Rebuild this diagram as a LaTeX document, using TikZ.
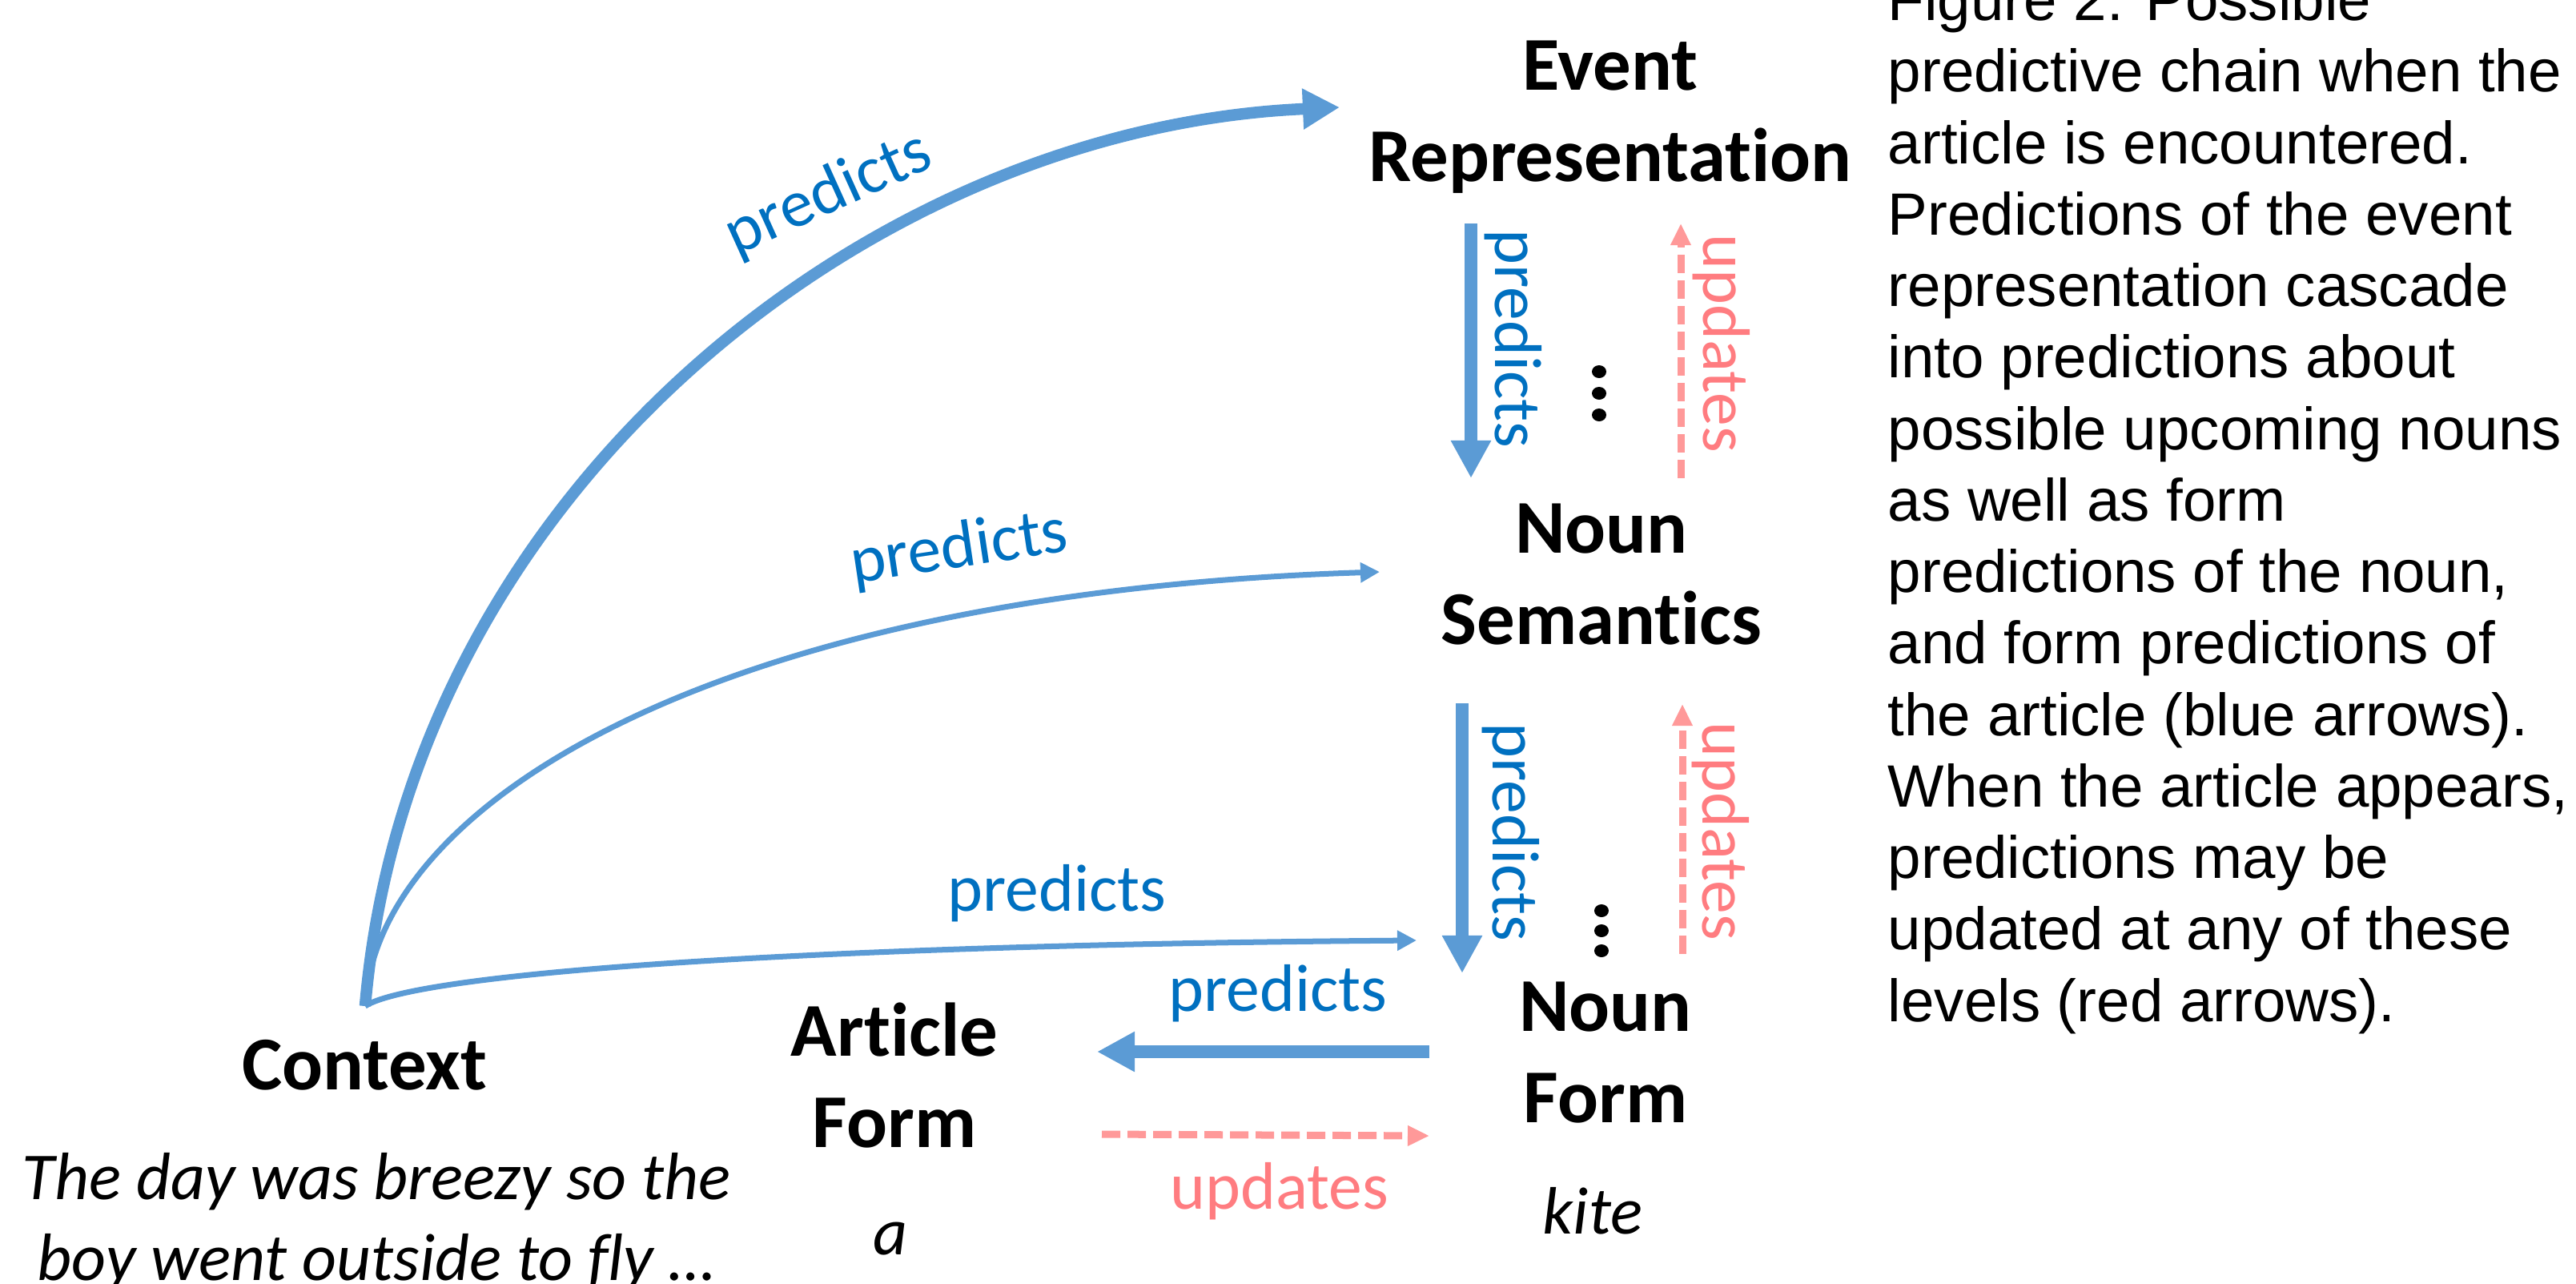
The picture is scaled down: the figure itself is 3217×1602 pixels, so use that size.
\documentclass[tikz,border=0pt]{standalone}
\usepackage{fontspec}
\setmainfont{Carlito}[Ligatures=NoCommon]
\newfontfamily\capfont{Liberation Sans}
\usetikzlibrary{arrows.meta}
\definecolor{predblue}{RGB}{91,155,213}
\definecolor{predtext}{RGB}{0,112,192}
\definecolor{updred}{RGB}{255,153,153}
\definecolor{updtext}{RGB}{255,124,128}

\begin{document}
\begin{tikzpicture}[x=0.01cm,y=-0.01cm,
  level/.style={font=\fontsize{27pt}{32.2pt}\selectfont\bfseries, align=center, inner sep=0pt, anchor=base},
  example/.style={font=\fontsize{23.8pt}{28.45pt}\selectfont\itshape, align=center, inner sep=0pt, anchor=base},
  plabel/.style={font=\fontsize{23.8pt}{28pt}\selectfont, text=predtext, inner sep=0pt},
  ulabel/.style={font=\fontsize{23.8pt}{28pt}\selectfont, text=updtext, inner sep=0pt},
  bigpred/.style={draw=predblue, line width=0.16cm, -{Triangle[length=0.47cm,width=0.47cm]}},
  curvepred/.style={draw=predblue, line width=0.145cm, -{Triangle[length=0.46cm,width=0.48cm]}},
  thinpred/.style={draw=predblue, line width=0.07cm, -{Triangle[length=0.24cm,width=0.24cm]}},
  upd/.style={draw=updred, line width=0.09cm, dash pattern=on 0.23cm off 0.09cm, -{Triangle[length=0.27cm,width=0.24cm]}},
  dot/.style={fill=black},
]
\useasboundingbox (0,0) rectangle (3217,1602);
\clip (0,0) rectangle (3217,1602);

% levels of representation (placed by the baseline of their last line)
\node[level] (evt)   at (2011,226)  {Event\\Representation};
\node[level] (nsem)  at (2000,804)  {Noun\\Semantics};
\node[level] (nform) at (2005,1401) {Noun\\Form};
\node[level] (art)   at (1117,1432) {Article\\Form};
\node[level] (ctx)   at (455,1360)  {Context};

% example words
\node[example] (ctxex)  at (470,1598)  {The day was breezy so the\\boy went outside to fly …};
\node[example] (artex)  at (1112,1566) {a};
\node[example] (nounex) at (1989,1540) {kite};

% arrow end points
\coordinate (src)      at (456,1256);
\coordinate (evtin)    at (1673,134);
\coordinate (nsemin)   at (1723,714);
\coordinate (nformin)  at (1769,1174);
\coordinate (evtout)   at (1837,279);
\coordinate (nsemtop)  at (1837,597);
\coordinate (evtupd)   at (2099,279);
\coordinate (nsemupd)  at (2099,597);
\coordinate (nsemout)  at (1826,878);
\coordinate (nformtop) at (1826,1215);
\coordinate (nsemupdb) at (2101,879);
\coordinate (nformupd) at (2101,1191);
\coordinate (nformout) at (1785,1313);
\coordinate (artin)    at (1370,1313);
\coordinate (artupd)   at (1376,1416);
\coordinate (nformin2) at (1785,1418);

% predictions from the context
\draw[curvepred] (src) .. controls (510,620) and (1080,160) .. (evtin);
\draw[thinpred]  (src) .. controls (470,1000) and (900,740) .. (nsemin);
\draw[thinpred]  (src) .. controls (520,1215) and (1000,1180) .. (nformin);
\node[plabel, rotate=24.3] (l1) at (1035,243) {predicts};
\node[plabel, rotate=8.5]  (l2) at (1198,686) {predicts};
\node[plabel, anchor=base] (l3) at (1320,1137) {predicts};

% cascade between levels
\draw[bigpred] (evtout) -- (nsemtop);
\draw[upd] (nsemupd) -- (evtupd);
\node[plabel, rotate=-90] (l4) at (1890,423) {predicts};
\node[ulabel, rotate=-90] (u1) at (2150,429) {updates};

\draw[bigpred] (nsemout) -- (nformtop);
\draw[upd] (nformupd) -- (nsemupdb);
\node[plabel, rotate=-90] (l5) at (1887,1039) {predicts};
\node[ulabel, rotate=-90] (u2) at (2149,1038) {updates};

\draw[bigpred] (nformout) -- (artin);
\draw[upd] (artupd) -- (nformin2);
\node[plabel, anchor=base] (l6) at (1596,1262) {predicts};
\node[ulabel, anchor=base] (u3) at (1598,1509) {updates};

% vertical ellipses
\foreach \yy in {464,491,518} \fill[dot] (1997,\yy) ellipse [x radius=0.09cm, y radius=0.08cm];
\foreach \yy in {1137,1162,1187} \fill[dot] (2000,\yy) ellipse [x radius=0.09cm, y radius=0.08cm];

% caption (placed by the baseline of its last line)
\node[font=\capfont\fontsize{21.2pt}{25.38pt}\selectfont, align=left, anchor=base west, inner sep=0pt] (caption) at (2357,1275)
  {Figure 2: Possible\\predictive chain when the\\article is encountered.\\Predictions of the event\\representation cascade\\into predictions about\\possible upcoming nouns\\as well as form\\predictions of the noun,\\and form predictions of\\the article (blue arrows).\\When the article appears,\\predictions may be\\updated at any of these\\levels (red arrows).};
\end{tikzpicture}
\end{document}
